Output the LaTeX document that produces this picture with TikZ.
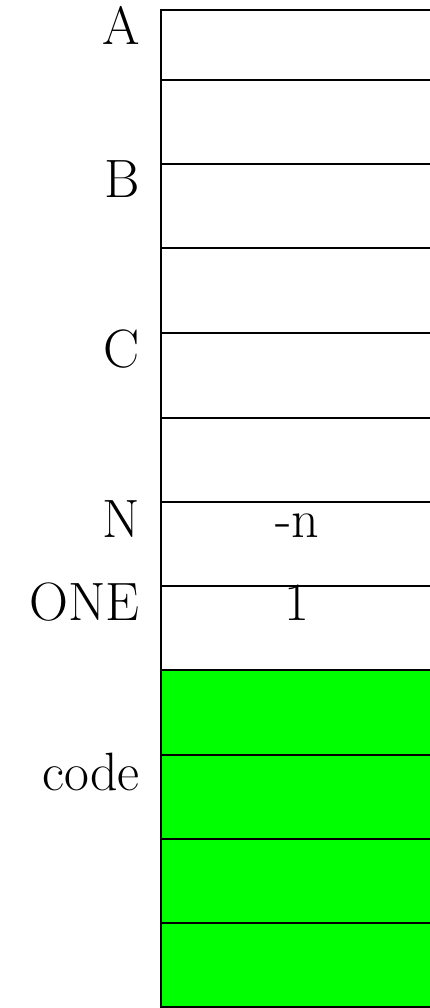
\documentclass[tikz,border=0pt]{standalone}
\usetikzlibrary{positioning}
\definecolor{codegreen}{RGB}{0,255,0}
\begin{document}
\begin{tikzpicture}[x=1pt,y=-1pt,
  cellline/.style={draw=black,line width=2pt},
  codecell/.style={cellline,fill=codegreen},
  lbl/.style={anchor=base east,inner sep=0pt,font=\fontsize{54}{60}\selectfont},
  val/.style={anchor=base,inner sep=0pt,font=\fontsize{54}{60}\selectfont}]
\useasboundingbox (0,0) rectangle (430,1008);
\clip (0,0) rectangle (430,1008);
% memory cells
\foreach \t/\b in {10/80,80/164,164/248,248/333,333/418,418/502,502/586,586/670}
  \draw[cellline] (161,\t) rectangle (445,\b);
\foreach \t/\b in {670/755,755/839,839/923,923/1007}
  \draw[codecell] (161,\t) rectangle (445,\b);
% labels
\node[lbl] (la) at (140,45) {A};
\node[lbl] (lb) at (140,198) {B};
\node[lbl] (lc) at (140,367) {C};
\node[lbl] (ln) at (140,537) {N};
\node[lbl] (lone) at (140,620) {ONE};
\node[lbl] (lcode) at (140,790) {code};
% values
\node[val] (vn) at (297,537) {-n};
\node[val] (vone) at (297,620) {1};
\end{tikzpicture}
\end{document}
